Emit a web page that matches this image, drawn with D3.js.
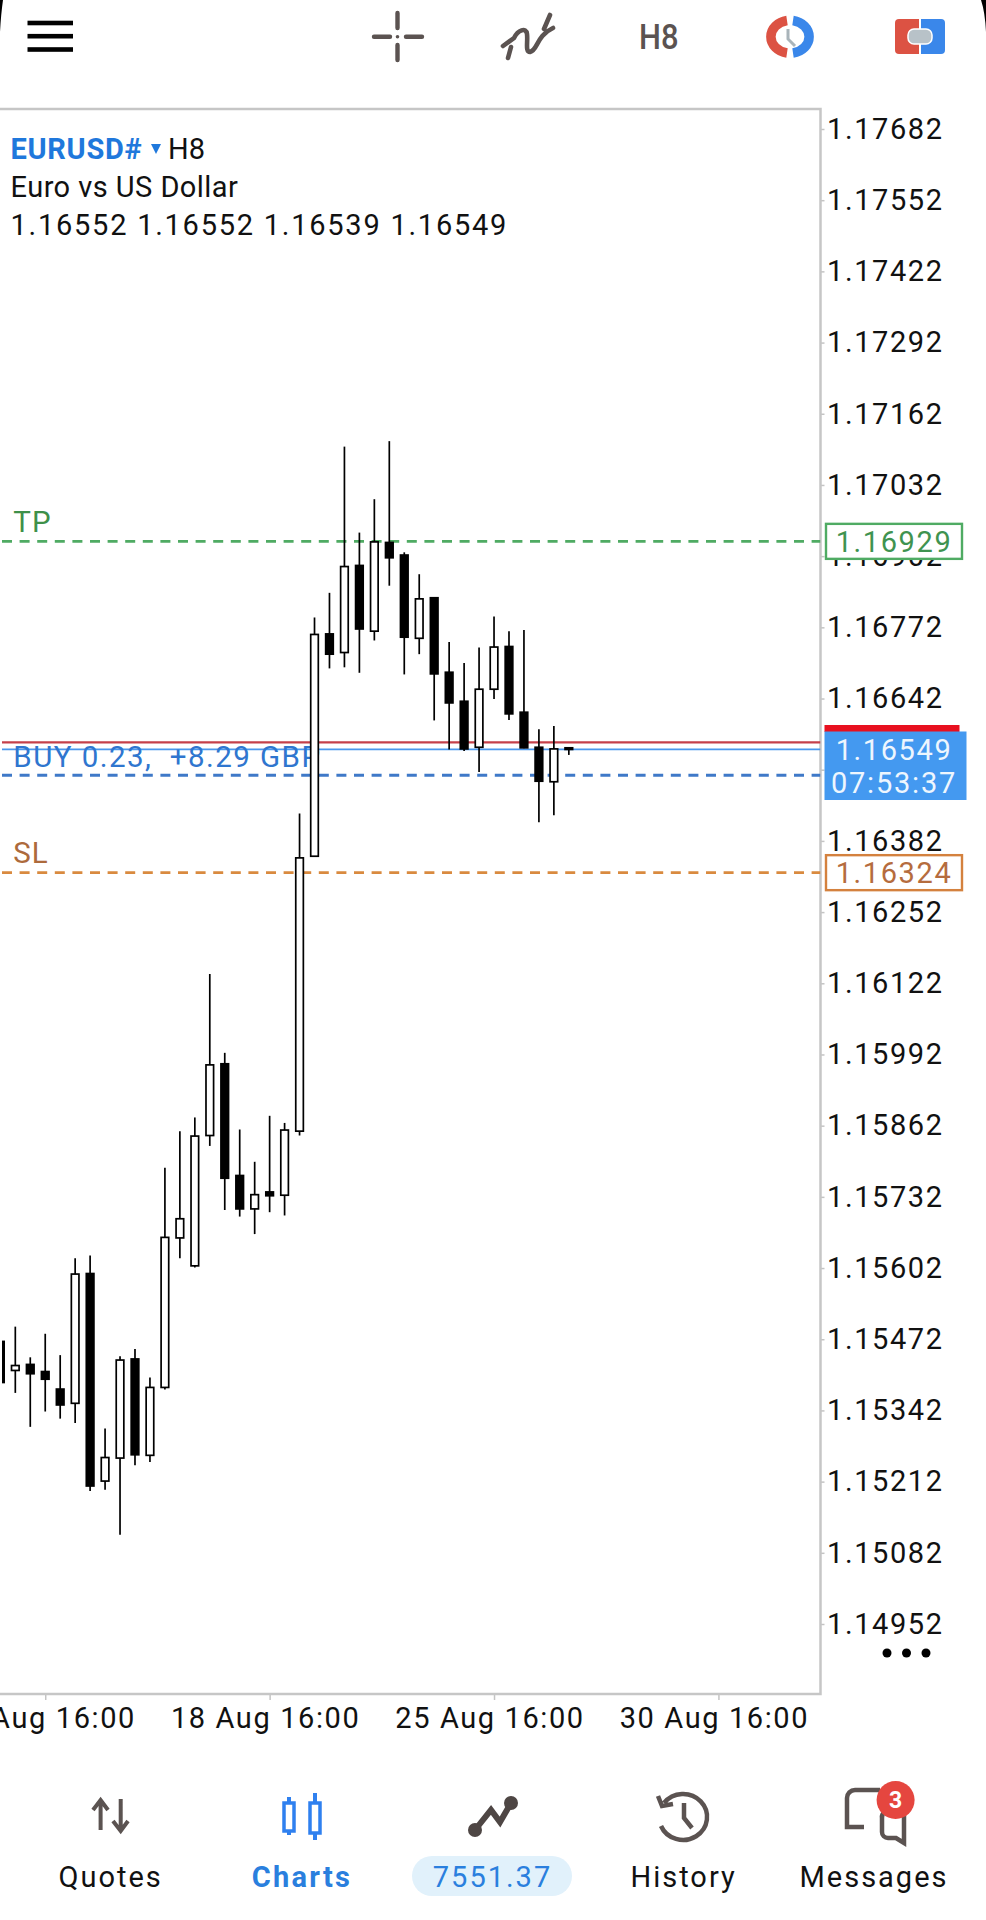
<!DOCTYPE html>
<html>
<head>
<meta charset="utf-8">
<title>EURUSD# H8</title>
<script src="https://cdn.jsdelivr.net/npm/d3@7"></script>
<style>
  html, body { margin: 0; padding: 0; background: #fff; }
  svg { display: block; }
  text { font-family: Roboto, sans-serif; }
</style>
</head>
<body>
<script>
// candles, oldest first (the first one is cut by the left edge)
var opens = [1.15468,1.15415,1.15426,1.15413,1.15381,1.15355,1.15592,1.15213,1.15255,1.15436,1.15260,1.15384,1.15657,1.15606,1.15844,1.15975,1.15771,1.15710,1.15741,1.15735,1.15852,1.16354,1.16760,1.16726,1.16885,1.16765,1.16927,1.16904,1.16752,1.16826,1.16690,1.16637,1.16553,1.16659,1.16737,1.16617,1.16553,1.16490,1.16552];
var highs = [1.15468,1.15495,1.15439,1.15482,1.15443,1.15620,1.15625,1.15309,1.15441,1.15454,1.15402,1.15785,1.15852,1.15877,1.16139,1.15995,1.15855,1.15796,1.15880,1.15867,1.16432,1.16790,1.16835,1.17102,1.16945,1.17006,1.17112,1.16909,1.16869,1.16827,1.16745,1.16707,1.16735,1.16792,1.16765,1.16767,1.16586,1.16592,1.16552];
var lows = [1.15393,1.15374,1.15312,1.15340,1.15327,1.15319,1.15195,1.15197,1.15115,1.15242,1.15248,1.15380,1.15620,1.15603,1.15825,1.15708,1.15696,1.15664,1.15704,1.15698,1.15844,1.16354,1.16697,1.16699,1.16689,1.16748,1.16848,1.16686,1.16723,1.16602,1.16549,1.16546,1.16508,1.16641,1.16603,1.16551,1.16416,1.16429,1.16539];
var closes = [1.15393,1.15424,1.15409,1.15399,1.15352,1.15591,1.15204,1.15256,1.15434,1.15261,1.15384,1.15658,1.15692,1.15843,1.15973,1.15766,1.15710,1.15736,1.15734,1.15854,1.16351,1.16759,1.16723,1.16883,1.16769,1.16928,1.16899,1.16754,1.16824,1.16687,1.16634,1.16550,1.16659,1.16736,1.16614,1.16552,1.16491,1.16550,1.16549];

var priceTicks = [1.17682,1.17552,1.17422,1.17292,1.17162,1.17032,1.16902,1.16772,1.16642,1.16512,1.16382,1.16252,1.16122,1.15992,1.15862,1.15732,1.15602,1.15472,1.15342,1.15212,1.15082,1.14952];
var timeTicks = [3, 18, 33, 48];
var timeLabels = ["11 Aug 16:00", "18 Aug 16:00", "25 Aug 16:00", "30 Aug 16:00"];

var tpPrice = 1.16929, slPrice = 1.16324, openPrice = 1.16502, bidPrice = 1.16549, askPrice = 1.16562;
var legendOhlc = "1.16552 1.16552 1.16539 1.16549";
var countdown = "07:53:37";
var navLabels = ["Quotes", "Charts", "7551.37", "History", "Messages"];

var width = 986, height = 1920;
var frameLeft = 2, frameRight = 820.5, frameTop = 109, frameBottom = 1694;

var x = d3.scaleLinear().domain([0, 48]).range([0.35, 718.43]);
var y = d3.scaleLinear().domain([1.17682, 1.14952]).range([129, 1624]);

var svg = d3.select("body").append("svg")
    .attr("width", width)
    .attr("height", height)
    .attr("viewBox", "0 0 " + width + " " + height);

svg.append("clipPath").attr("id", "plot")
    .append("rect")
    .attr("x", frameLeft).attr("y", frameTop)
    .attr("width", frameRight - frameLeft).attr("height", frameBottom - frameTop);

var price = d3.format(".5f");
var spaced = 1.6;

// right axis
var yAxis = d3.axisRight(y).tickValues(priceTicks).tickSize(4).tickFormat(price);
var yG = svg.append("g").attr("transform", "translate(" + frameRight + ",0)").call(yAxis);
yG.select(".domain").remove();
yG.selectAll("line").attr("stroke", "#c4c4c4").attr("stroke-width", 1.5);
yG.selectAll("text")
    .attr("x", 6.5).attr("dy", "0.32em")
    .attr("fill", "#111").attr("font-size", 29)
    .attr("font-family", "Roboto, sans-serif")
    .attr("letter-spacing", spaced);

// time axis
var xAxis = d3.axisBottom(x).tickValues(timeTicks).tickSize(6).tickFormat(function(d, i) { return timeLabels[i]; });
var xG = svg.append("g").attr("transform", "translate(0," + frameBottom + ")").call(xAxis);
xG.select(".domain").remove();
xG.selectAll("line").attr("stroke", "#c4c4c4").attr("stroke-width", 1.5);
xG.selectAll("text")
    .attr("x", -4.5).attr("y", 24).attr("dy", "0.36em")
    .attr("fill", "#111").attr("font-size", 29)
    .attr("font-family", "Roboto, sans-serif")
    .attr("letter-spacing", 1.6);

// frame
svg.append("path")
    .attr("d", "M0," + frameTop + "H" + frameRight + "V" + frameBottom + "H0")
    .attr("fill", "none").attr("stroke", "#c6c6c6").attr("stroke-width", 2.5);

// legend
var legend = svg.append("g").attr("fill", "#111").attr("font-size", 29);
var l1 = legend.append("text").attr("x", 10.5).attr("y", 159).attr("letter-spacing", 0.7);
l1.append("tspan").attr("fill", "#1f78dc").attr("font-weight", 700).text("EURUSD#");
legend.append("path").attr("d", "M151,144H161L156,154Z").attr("fill", "#1f78dc");
legend.append("text").attr("x", 168).attr("y", 159).text("H8");
legend.append("text").attr("x", 10.5).attr("y", 197).attr("letter-spacing", 0.45).text("Euro vs US Dollar");
legend.append("text").attr("x", 10.5).attr("y", 234.5).attr("letter-spacing", 1.75).text(legendOhlc);

// trade levels
var plot = svg.append("g").attr("clip-path", "url(#plot)");
var levels = [
  {p: tpPrice, c: "#4fab63", dash: "10,7.6", w: 2.9},
  {p: openPrice, c: "#3f79c8", dash: "10,7.6", w: 2.9},
  {p: slPrice, c: "#d98a3f", dash: "10,7.6", w: 2.9},
  {p: askPrice, c: "#c5404a", dash: null, w: 2.2},
  {p: bidPrice, c: "#4a97ec", dash: null, w: 1.8}
];
plot.selectAll("line.level").data(levels).enter().append("line")
    .attr("class", "level")
    .attr("x1", frameLeft).attr("x2", frameRight)
    .attr("y1", function(d) { return y(d.p); })
    .attr("y2", function(d) { return y(d.p); })
    .attr("stroke", function(d) { return d.c; })
    .attr("stroke-width", function(d) { return d.w; })
    .attr("stroke-dasharray", function(d) { return d.dash; });

plot.append("text").attr("x", 13.3).attr("y", 531.5).attr("fill", "#3e9049").attr("font-size", 29.5).attr("letter-spacing", 1).text("TP");
plot.append("text").attr("x", 13.3).attr("y", 767.3).attr("fill", "#2f76cf").attr("font-size", 29.5)
    .attr("letter-spacing", 1.45).style("white-space", "pre").text("BUY 0.23,  +8.29 GBP");
plot.append("text").attr("x", 13.3).attr("y", 863.3).attr("fill", "#ad6a3c").attr("font-size", 29.5).attr("letter-spacing", 1).text("SL");

// candles
var candles = plot.selectAll("g.candle").data(d3.range(opens.length)).enter().append("g").attr("class", "candle");
candles.append("line")
    .attr("x1", function(i) { return x(i); })
    .attr("x2", function(i) { return x(i); })
    .attr("y1", function(i) { return y(highs[i]); })
    .attr("y2", function(i) { return y(lows[i]); })
    .attr("stroke", "#000").attr("stroke-width", 1.7);
candles.append("rect")
    .attr("x", function(i) { return x(i) - 3.8; })
    .attr("width", 7.6)
    .attr("y", function(i) { return y(Math.max(opens[i], closes[i])); })
    .attr("height", function(i) { return Math.abs(y(opens[i]) - y(closes[i])); })
    .attr("fill", function(i) { return closes[i] > opens[i] ? "#fff" : "#000"; })
    .attr("stroke", "#000").attr("stroke-width", 1.7);

// price boxes on the axis
function levelBox(p, stroke, color) {
  var cy = y(p);
  svg.append("rect").attr("x", 826).attr("y", cy - 17.5).attr("width", 136).attr("height", 35)
      .attr("fill", "#fff").attr("stroke", stroke).attr("stroke-width", 2.4);
  svg.append("text").attr("x", 894).attr("y", cy).attr("dy", "0.36em").attr("text-anchor", "middle")
      .attr("fill", color).attr("font-size", 29).attr("letter-spacing", spaced).text(price(p));
}
levelBox(tpPrice, "#4fab63", "#3f9350");
levelBox(slPrice, "#d4813e", "#b56c3e");

svg.append("rect").attr("x", 824.5).attr("y", 725).attr("width", 135).attr("height", 7).attr("fill", "#e8101f");
svg.append("rect").attr("x", 824.5).attr("y", 731.5).attr("width", 142).attr("height", 68.5).attr("fill", "#4499f0");
svg.append("text").attr("x", 894).attr("y", y(bidPrice)).attr("dy", "0.36em").attr("text-anchor", "middle")
    .attr("fill", "#eef6fe").attr("font-size", 29).attr("letter-spacing", spaced).text(price(bidPrice));
svg.append("text").attr("x", 894).attr("y", 783).attr("dy", "0.36em").attr("text-anchor", "middle")
    .attr("fill", "#eef6fe").attr("font-size", 29).attr("letter-spacing", 1.8).text(countdown);

// three dots under the price scale
svg.selectAll("circle.more").data([887, 906.5, 926]).enter().append("circle")
    .attr("class", "more").attr("cx", function(d) { return d; }).attr("cy", 1653).attr("r", 4.5).attr("fill", "#000");

// dark crescents of the phone screen corners
svg.append("path").attr("d", "M0,0H3Q1,14 0,32Z").attr("fill", "#000");
svg.append("path").attr("d", "M981,0H986V32Q985,12 981,0Z").attr("fill", "#000");

// top toolbar
var grey = "#5b5351";
var top_ = svg.append("g");
top_.selectAll("rect.burger").data([23, 36.2, 49.5]).enter().append("rect")
    .attr("class", "burger").attr("x", 27.5).attr("width", 45.5).attr("height", 4.6)
    .attr("y", function(d) { return d - 2.3; }).attr("fill", "#000");
top_.append("path")
    .attr("d", "M397.5,13V28M397.5,45V60M374,36.7H390M406,36.7H422")
    .attr("fill", "none").attr("stroke", grey).attr("stroke-width", 4.4).attr("stroke-linecap", "round");
top_.append("circle").attr("cx", 397.5).attr("cy", 36.7).attr("r", 1.8).attr("fill", grey);
top_.append("path")
    .attr("d", "M503,46L514,38C518,30 526,27 527,34C528,42 525,52 530,52C538,50 536,36 553,28M508,58L511,47M544,29L550,15")
    .attr("fill", "none").attr("stroke", grey).attr("stroke-width", 4.6).attr("stroke-linecap", "round");
top_.append("text").attr("transform", "translate(639,49) scale(0.86,1)").attr("font-size", 36).attr("font-weight", 500)
    .attr("fill", grey).text("H8");
// timeframes icon
top_.append("path").attr("d", "M787,20.5A19.5,16.5 0 0 0 787,53")
    .attr("fill", "none").attr("stroke", "#dc5243").attr("stroke-width", 9.5);
top_.append("path").attr("d", "M793,20.5A19.5,16.5 0 0 1 793,53")
    .attr("fill", "none").attr("stroke", "#3a87ea").attr("stroke-width", 9.5);
top_.append("path").attr("d", "M788,29L788,39L795,46")
    .attr("fill", "none").attr("stroke", "#a9b4ba").attr("stroke-width", 3);
// trade icon
top_.append("path").attr("d", "M895,23a4,4 0 0 1 4,-4H919V54H899a4,4 0 0 1 -4,-4Z").attr("fill", "#dc5243");
top_.append("path").attr("d", "M921,19H941a4,4 0 0 1 4,4V50a4,4 0 0 1 -4,4H921Z").attr("fill", "#3a87ea");
top_.append("rect").attr("x", 908).attr("y", 29).attr("width", 24).attr("height", 15).attr("rx", 6).attr("fill", "#b8c2c8").attr("stroke", "#fff").attr("stroke-width", 1.5);

// bottom navigation
var navX = [110.7, 302, 492.5, 683.6, 874];
var nav = svg.append("g");
nav.append("rect").attr("x", 412).attr("y", 1856).attr("width", 160).attr("height", 40).attr("rx", 20).attr("fill", "#e1f1fb");
nav.selectAll("text").data(navLabels).enter().append("text")
    .attr("x", function(d, i) { return navX[i]; })
    .attr("y", 1886.5)
    .attr("text-anchor", "middle")
    .attr("font-size", 29)
    .attr("letter-spacing", function(d, i) { return i == 1 ? 2.3 : 2; })
    .attr("font-weight", function(d, i) { return i == 1 ? 700 : 400; })
    .attr("fill", function(d, i) { return i == 1 || i == 2 ? "#2a7fde" : "#111"; })
    .text(function(d) { return d; });

nav.append("path").attr("d", "M100.6,1830V1800M93,1810L100.6,1800L108,1810M120.7,1799V1831M113,1821L120.7,1831L128,1821")
    .attr("fill", "none").attr("stroke", grey).attr("stroke-width", 4);
nav.append("path").attr("d", "M289,1797V1803M289,1830V1835M315,1793V1803M315,1832V1840")
    .attr("fill", "none").attr("stroke", "#2f80ef").attr("stroke-width", 4);
nav.selectAll("rect.ci").data([[284, 1803, 28], [310, 1803, 30]]).enter().append("rect")
    .attr("class", "ci")
    .attr("x", function(d) { return d[0]; }).attr("y", function(d) { return d[1]; })
    .attr("width", 10).attr("height", function(d) { return d[2]; })
    .attr("fill", "#fff").attr("stroke", "#2f80ef").attr("stroke-width", 3.5);
nav.append("path").attr("d", "M475,1830L491,1810L500,1822L511,1803")
    .attr("fill", "none").attr("stroke", "#4e4644").attr("stroke-width", 6);
nav.append("circle").attr("cx", 475).attr("cy", 1830).attr("r", 7).attr("fill", "#4e4644");
nav.append("circle").attr("cx", 511).attr("cy", 1803).attr("r", 7).attr("fill", "#4e4644");
nav.append("path").attr("d", "M664,1803A24,23 0 1 1 661,1826M658,1796L662,1806L673,1804M684,1803V1818L692,1828")
    .attr("fill", "none").attr("stroke", grey).attr("stroke-width", 4.5);
nav.append("path").attr("d", "M880,1790H855a8,8 0 0 0 -8,8V1827H864M885,1812a6,6 0 0 0 -3,6V1832a6,6 0 0 0 6,6H896L904,1843V1812")
    .attr("fill", "none").attr("stroke", grey).attr("stroke-width", 4.5);
nav.append("circle").attr("cx", 895.6).attr("cy", 1800).attr("r", 19).attr("fill", "#e5463f");
nav.append("text").attr("x", 895.6).attr("y", 1808).attr("text-anchor", "middle").attr("font-size", 23).attr("font-weight", 700).attr("fill", "#fff").text("3");
</script>
</body>
</html>
